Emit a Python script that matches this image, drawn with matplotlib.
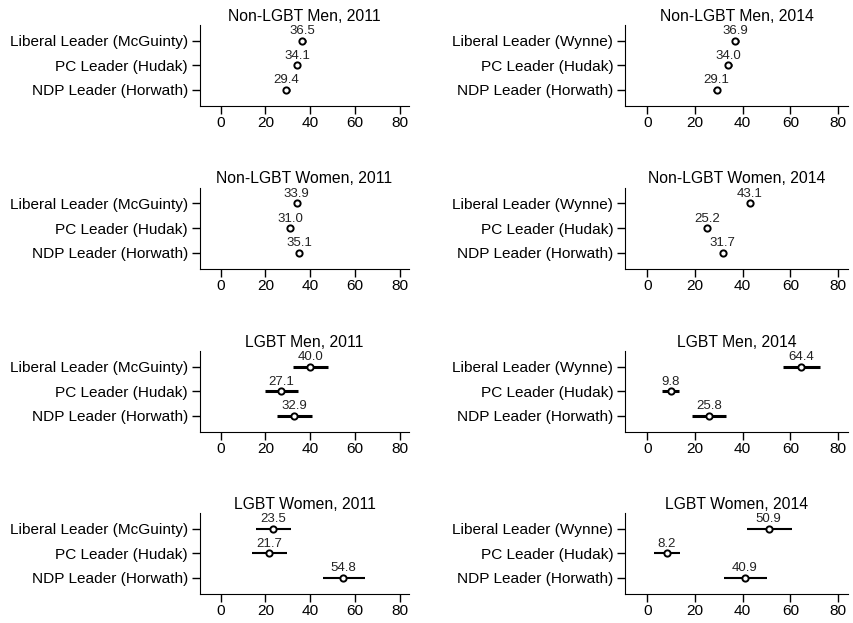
import matplotlib.pyplot as plt
import numpy as np

plt.rcParams['font.family'] = ['Liberation Sans', 'DejaVu Sans']

# leader labels, top to bottom
leaders_2011 = ["Liberal Leader (McGuinty)", "PC Leader (Hudak)", "NDP Leader (Horwath)"]
leaders_2014 = ["Liberal Leader (Wynne)", "PC Leader (Hudak)", "NDP Leader (Horwath)"]

titles = ["Non-LGBT Men, 2011", "Non-LGBT Men, 2014",
          "Non-LGBT Women, 2011", "Non-LGBT Women, 2014",
          "LGBT Men, 2011", "LGBT Men, 2014",
          "LGBT Women, 2011", "LGBT Women, 2014"]

# point estimates (Liberal, PC, NDP)
est_nlm_2011 = [36.5, 34.1, 29.4]
est_nlm_2014 = [36.9, 34.0, 29.1]
est_nlw_2011 = [33.9, 31.0, 35.1]
est_nlw_2014 = [43.1, 25.2, 31.7]
est_lm_2011 = [40.0, 27.1, 32.9]
est_lm_2014 = [64.4, 9.8, 25.8]
est_lw_2011 = [23.5, 21.7, 54.8]
est_lw_2014 = [50.9, 8.2, 40.9]

# confidence interval bounds
lo_nlm_2011 = [35.0, 32.6, 27.9]
hi_nlm_2011 = [38.0, 35.6, 30.9]
lo_nlm_2014 = [35.4, 32.5, 27.6]
hi_nlm_2014 = [38.4, 35.5, 30.6]
lo_nlw_2011 = [33.1, 30.2, 34.3]
hi_nlw_2011 = [34.7, 31.8, 35.9]
lo_nlw_2014 = [42.3, 24.4, 30.9]
hi_nlw_2014 = [43.9, 26.0, 32.5]
lo_lm_2011 = [32.4, 20.0, 25.0]
hi_lm_2011 = [48.0, 34.4, 41.0]
lo_lm_2014 = [57.0, 6.2, 18.7]
hi_lm_2014 = [72.3, 13.5, 33.2]
lo_lw_2011 = [15.7, 14.0, 45.6]
hi_lw_2011 = [31.4, 29.7, 64.3]
lo_lw_2014 = [41.8, 2.8, 32.2]
hi_lw_2014 = [60.5, 13.8, 50.1]

panels = [
    (est_nlm_2011, lo_nlm_2011, hi_nlm_2011, leaders_2011),
    (est_nlm_2014, lo_nlm_2014, hi_nlm_2014, leaders_2014),
    (est_nlw_2011, lo_nlw_2011, hi_nlw_2011, leaders_2011),
    (est_nlw_2014, lo_nlw_2014, hi_nlw_2014, leaders_2014),
    (est_lm_2011, lo_lm_2011, hi_lm_2011, leaders_2011),
    (est_lm_2014, lo_lm_2014, hi_lm_2014, leaders_2014),
    (est_lw_2011, lo_lw_2011, hi_lw_2011, leaders_2011),
    (est_lw_2014, lo_lw_2014, hi_lw_2014, leaders_2014),
]

fig = plt.figure(figsize=(8.54, 6.23), dpi=100)

bottoms = [0.830, 0.569, 0.307, 0.047]
lefts = [0.234, 0.732]
widths = [0.245, 0.261]
line_w = [1.8, 1.3, 2.2, 1.5]

ypos = np.array([3, 2, 1])

for i, (est, lo, hi, names) in enumerate(panels):
    row, col = i // 2, i % 2
    ax = fig.add_axes([lefts[col], bottoms[row], widths[col], 0.13])
    est = np.array(est)
    err = [est - np.array(lo), np.array(hi) - est]
    ax.errorbar(est, ypos, xerr=err, fmt='o', color='black', ecolor='black',
                elinewidth=line_w[row], capsize=0, markersize=4.5,
                markerfacecolor='white', markeredgecolor='black', markeredgewidth=1.4)
    for x, y in zip(est, ypos):
        ax.annotate(f"{x:.1f}", (x, y), xytext=(0, 2.5), textcoords='offset points',
                    ha='center', va='bottom', fontsize=9.5, color='#222222')
    ax.set_xlim(-9.3, 84.2)
    ax.set_ylim(0.35, 3.65)
    ax.set_xticks([0, 20, 40, 60, 80])
    ax.set_yticks(ypos)
    ax.set_yticklabels(names)
    ax.tick_params(axis='both', labelsize=11.1, length=5.5, width=1, pad=3)
    ax.tick_params(axis='x', pad=2)
    ax.spines['top'].set_visible(False)
    ax.spines['right'].set_visible(False)
    ax.set_title(titles[i], fontsize=11.3, pad=3)

plt.savefig("out.png", dpi=100)
